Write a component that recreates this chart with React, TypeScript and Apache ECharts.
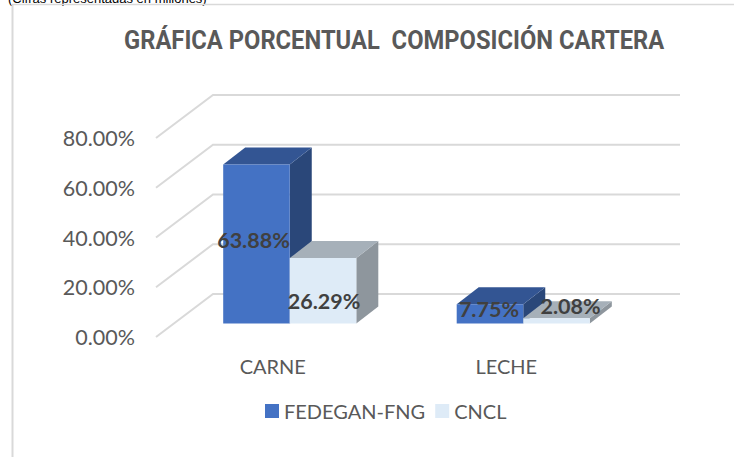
import React, { useEffect, useRef } from "react";
import * as echarts from "echarts";

const categories = ["CARNE", "LECHE"];
const fedegan = [63.88, 7.75];
const cncl = [26.29, 2.08];
const yTicks = [0, 20, 40, 60, 80];
const titleText = "GRÁFICA PORCENTUAL  COMPOSICIÓN CARTERA";
const captionText = "(Cifras representadas en millones)";

const UI_FONT = "Lato";
const GRID = { left: 156, top: 138, width: 467, height: 199 };
const BAR_SHIFT = [17, -13.5];
const BAR_DEPTH = [22, -17];
const WALL_DEPTH = [57, -43];
const BAR_FRACTION = 0.285;

function quad(points: number[][], fill: string) {
  return { type: "polygon", shape: { points }, style: { fill } };
}

function barSeries(
  name: string,
  values: number[],
  slot: number,
  colors: { front: string; top: string; side: string },
  labelShift: number[][]
) {
  return {
    type: "custom",
    name,
    data: values.map((v, i) => [i, v]),
    encode: { x: 0, y: 1 },
    itemStyle: { color: colors.front },
    z: 3,
    clip: false,
    renderItem: (params: any, api: any) => {
      const i = api.value(0);
      const v = api.value(1);
      const w = api.size([1, 0])[0] * BAR_FRACTION;
      const base = api.coord([i, 0]);
      const top = api.coord([i, v]);
      const x0 = base[0] + BAR_SHIFT[0] + slot * w;
      const x1 = x0 + w;
      const yb = base[1] + BAR_SHIFT[1];
      const yt = top[1] + BAR_SHIFT[1];
      const [dx, dy] = BAR_DEPTH;
      const shift = labelShift[params.dataIndex];
      return {
        type: "group",
        children: [
          quad([[x1, yb], [x1 + dx, yb + dy], [x1 + dx, yt + dy], [x1, yt]], colors.side),
          quad([[x0, yt], [x1, yt], [x1 + dx, yt + dy], [x0 + dx, yt + dy]], colors.top),
          quad([[x0, yb], [x1, yb], [x1, yt], [x0, yt]], colors.front),
          {
            type: "text",
            z2: 50,
            style: {
              text: v.toFixed(2) + "%",
              x: (x0 + x1) / 2 + shift[0],
              y: (yb + yt) / 2 + shift[1],
              align: "center",
              verticalAlign: "middle",
              fill: "#404040",
              font: `bold 21.5px ${UI_FONT}`,
            },
          },
        ],
      };
    },
  };
}

export default function App() {
  const ref = useRef<HTMLDivElement>(null);
  useEffect(() => {
    const chart = echarts.init(ref.current!, undefined, { renderer: "svg" });
    chart.setOption({
      animation: false,
      backgroundColor: "#ffffff",
      legend: {
        data: ["FEDEGAN-FNG", "CNCL"],
        left: 260,
        top: 396,
        icon: "rect",
        itemWidth: 14,
        itemHeight: 14,
        itemGap: 10,
        textStyle: { fontFamily: UI_FONT, fontSize: 20, color: "#595959" },
      },
      grid: GRID,
      xAxis: {
        type: "category",
        data: categories,
        axisLine: { show: false },
        axisTick: { show: false },
        axisLabel: { fontFamily: UI_FONT, fontSize: 20, color: "#595959", margin: 19 },
      },
      yAxis: {
        type: "value",
        min: 0,
        max: 80,
        interval: 20,
        axisLine: { show: false },
        axisTick: { show: false },
        splitLine: { show: false },
        axisLabel: {
          fontFamily: UI_FONT,
          fontSize: 21.5,
          color: "#595959",
          margin: 21,
          padding: [2, 0, 0, 0],
          formatter: (v: number) => v.toFixed(2) + "%",
        },
      },
      graphic: [
        {
          type: "text",
          x: 124,
          y: 28,
          scaleX: 0.95,
          style: { text: titleText, font: "bold 25px Roboto", fill: "#595959" },
        },
        {
          type: "text",
          x: 8,
          y: -8,
          style: { text: captionText, font: "13px 'Liberation Sans'", fill: "#000000" },
        },
        { type: "line", shape: { x1: 12.5, y1: 4, x2: 12.5, y2: 457 }, style: { stroke: "#d9d9d9", lineWidth: 2 } },
        { type: "line", shape: { x1: 12, y1: 4.5, x2: 734, y2: 4.5 }, style: { stroke: "#d9d9d9", lineWidth: 1.5 } },
      ],
      series: [
        {
          type: "custom",
          name: "walls",
          data: yTicks.map((v) => [0, v]),
          encode: { x: 0, y: 1 },
          z: 1,
          clip: false,
          silent: true,
          renderItem: (_p: any, api: any) => {
            const y = api.coord([0, api.value(1)])[1];
            const xl = GRID.left;
            const [dx, dy] = WALL_DEPTH;
            return {
              type: "polyline",
              shape: {
                points: [
                  [xl, y],
                  [xl + dx, y + dy],
                  [xl + dx + GRID.width, y + dy],
                ],
              },
              style: { stroke: "#d9d9d9", lineWidth: 2, fill: "none" },
            };
          },
        },
        barSeries("FEDEGAN-FNG", fedegan, -1, { front: "#4472c4", top: "#335593", side: "#2a4779" }, [
          [-3, -4],
          [-1, -5],
        ]),
        barSeries("CNCL", cncl, 0, { front: "#deebf7", top: "#a6b0b9", side: "#8e969d" }, [
          [1, 10],
          [14, -15],
        ]),
      ],
    });
    return () => chart.dispose();
  }, []);
  return (
    <div
      ref={ref}
      style={{ position: "absolute", left: 0, top: 0, width: 734, height: 457 }}
    />
  );
}
